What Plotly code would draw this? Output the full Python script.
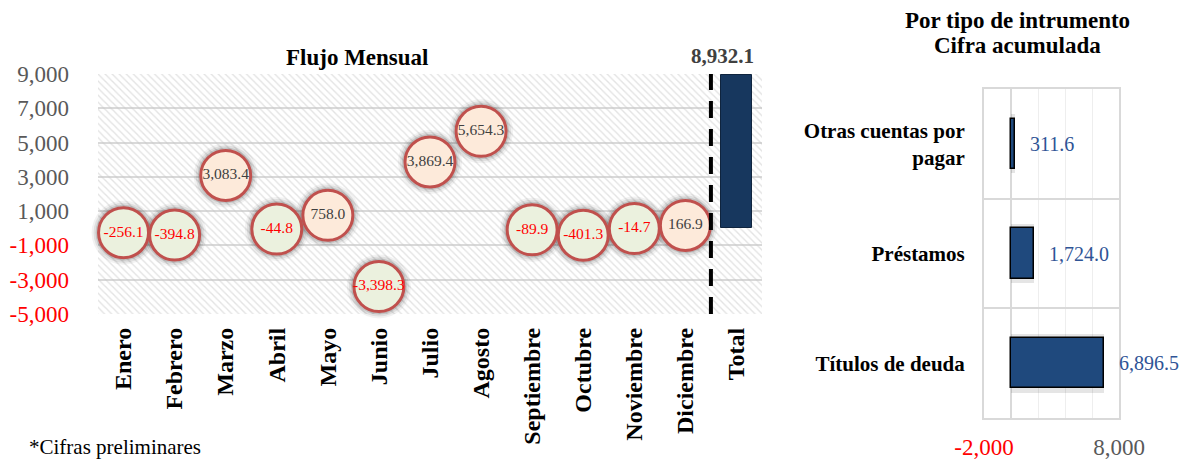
import plotly.graph_objects as go

# --- data -------------------------------------------------------------
MONTHS = ["Enero", "Febrero", "Marzo", "Abril", "Mayo", "Junio", "Julio",
          "Agosto", "Septiembre", "Octubre", "Noviembre", "Diciembre"]
MONTHLY_FLOW = [-256.1, -394.8, 3083.4, -44.8, 758.0, -3398.3, 3869.4,
                5654.3, -89.9, -401.3, -14.7, 166.9]
TOTAL_LABEL = "Total"
TOTAL_VALUE = 8932.1

INSTRUMENTS = ["Otras cuentas por<br>pagar", "Préstamos", "Títulos de deuda"]
INSTRUMENT_VALUES = [311.6, 1724.0, 6896.5]

Y_TICKS = [9000, 7000, 5000, 3000, 1000, -1000, -3000, -5000]
X2_TICKS = [-2000, 8000]

FONT = "Liberation Serif"
RED = "#FF0000"
GRAY = "#595959"
GRID = "#d9d9d9"

# the page body keeps its default 8px margin, so size the figure to fit
PAGE_MARGIN = 8
W, H = 1188 - PAGE_MARGIN, 459 - PAGE_MARGIN


def px(x):
    # window pixel -> paper x
    return (x - PAGE_MARGIN) / W


def py(y):
    # window pixel -> paper y
    return 1 - (y - PAGE_MARGIN) / H


def fmt(v):
    return f"{v:,.1f}"


def tick_text(v):
    color = RED if v < 0 else GRAY
    return f"<span style='color:{color}'>{v:,.0f}</span>"


categories = MONTHS + [TOTAL_LABEL]
Y_RANGE = [min(Y_TICKS), max(Y_TICKS)]

fig = go.Figure()

# hatched background of the monthly panel
fig.add_trace(go.Bar(
    x=[categories[len(categories) // 2]], y=[Y_RANGE[1] - Y_RANGE[0]], base=[Y_RANGE[0]],
    width=[len(categories)],
    marker=dict(color="rgba(0,0,0,0)", line=dict(width=0),
                pattern=dict(shape="\\", fgcolor="#c8c8c8", bgcolor="rgba(0,0,0,0)",
                             size=5, solidity=0.28, fillmode="overlay")),
    hoverinfo="skip", showlegend=False,
))

# total bar
fig.add_trace(go.Bar(
    x=[TOTAL_LABEL], y=[TOTAL_VALUE], width=[0.6],
    marker=dict(color="#17375E", line=dict(color="#0f243e", width=1)),
    showlegend=False,
))

# bubble shadows
for size, alpha in [(64, 0.05), (60, 0.08), (56, 0.12)]:
    fig.add_trace(go.Scatter(
        x=MONTHS, y=MONTHLY_FLOW, mode="markers",
        marker=dict(size=size, color=f"rgba(0,0,0,{alpha})", line=dict(width=0)),
        hoverinfo="skip", showlegend=False, cliponaxis=False,
    ))

# bubbles
fig.add_trace(go.Scatter(
    x=MONTHS, y=MONTHLY_FLOW, mode="markers+text",
    marker=dict(size=50,
                color=["#EBF1DE" if v < 0 else "#FDEADA" for v in MONTHLY_FLOW],
                line=dict(color="#C0504D", width=3), opacity=1),
    text=[fmt(v) for v in MONTHLY_FLOW],
    textposition="middle center",
    textfont=dict(family=FONT, size=15.5,
                  color=[RED if v < 0 else "#404040" for v in MONTHLY_FLOW]),
    showlegend=False, cliponaxis=False,
))

# instrument bars (shadow + bar)
fig.add_trace(go.Bar(
    y=INSTRUMENTS, x=INSTRUMENT_VALUES, orientation="h", width=0.54,
    marker=dict(color="rgba(0,0,0,0.10)", line=dict(width=0)),
    xaxis="x2", yaxis="y2", hoverinfo="skip", showlegend=False,
))
fig.add_trace(go.Bar(
    y=INSTRUMENTS, x=INSTRUMENT_VALUES, orientation="h", width=0.46,
    marker=dict(color="#1F497D", line=dict(color="#000000", width=1.5)),
    cliponaxis=False, xaxis="x2", yaxis="y2", showlegend=False,
))

# value labels next to the instrument bars
bar_labels = [
    dict(text=fmt(v), xref="x2", yref="y2", x=v, y=name,
         xanchor="left", yanchor="middle", xshift=13, showarrow=False,
         font=dict(family=FONT, size=20, color="#2F5496"))
    for name, v in zip(INSTRUMENTS, INSTRUMENT_VALUES)
]

fig.update_layout(
    width=W, height=H,
    margin=dict(l=0, r=0, t=0, b=0),
    paper_bgcolor="white", plot_bgcolor="white",
    barmode="overlay", bargap=0,
    font=dict(family=FONT, color="#000000"),
    xaxis=dict(
        domain=[px(98), px(762)], type="category", categoryorder="array",
        categoryarray=categories, range=[-0.5, len(categories) - 0.5],
        tickangle=-90, showgrid=False, zeroline=False, showline=False,
        ticklabelstandoff=8, automargin=False,
        tickfont=dict(family=FONT, size=24, color="#000000", weight="bold"),
    ),
    yaxis=dict(
        domain=[py(314), py(74)], range=Y_RANGE,
        tickvals=Y_TICKS, ticktext=[tick_text(v) for v in Y_TICKS],
        tickfont=dict(family=FONT, size=23),
        showgrid=True, gridcolor=GRID, gridwidth=2, zeroline=False,
        ticklabelstandoff=28, automargin=False,
    ),
    xaxis2=dict(
        domain=[px(984), px(1119)], anchor="y2", range=[-2000, 8000],
        tickvals=X2_TICKS, ticktext=[tick_text(v) for v in X2_TICKS],
        tickfont=dict(family=FONT, size=23),
        showgrid=False, zeroline=True, zerolinecolor=GRID, zerolinewidth=2,
        minor=dict(dtick=2000, showgrid=True, gridcolor="#eeeeee", gridwidth=1),
        showline=True, linecolor=GRID, linewidth=2, mirror=True,
        ticklabelstandoff=7, automargin=False,
    ),
    yaxis2=dict(
        domain=[py(418), py(89)], anchor="x2", type="category",
        autorange="reversed", tickson="boundaries", ticks="",
        showgrid=True, gridcolor=GRID, gridwidth=2,
        showline=True, linecolor=GRID, linewidth=2, mirror=True,
        tickfont=dict(family=FONT, size=21, color="#000000", weight="bold"),
        ticklabelstandoff=13, automargin=False,
    ),
    shapes=[dict(
        type="line", xref="x", yref="y domain", x0=11.5, x1=11.5, y0=0, y1=1,
        line=dict(color="#000000", width=4, dash="17px,11px"), layer="above",
    )],
    annotations=bar_labels + [
        dict(text="<b>Flujo Mensual</b>", xref="paper", yref="paper",
             x=px(357), y=py(57), xanchor="center", yanchor="middle", showarrow=False,
             font=dict(family=FONT, size=23, color="#000000")),
        dict(text=f"<b>{fmt(TOTAL_VALUE)}</b>", xref="x", yref="y",
             x=TOTAL_LABEL, y=TOTAL_VALUE, yanchor="bottom", yshift=5, xshift=-14,
             showarrow=False, font=dict(family=FONT, size=21, color="#404040")),
        dict(text="<b>Por tipo de intrumento</b>",
             xref="paper", yref="paper", x=px(1017), y=py(20),
             xanchor="center", yanchor="middle", showarrow=False,
             font=dict(family=FONT, size=23, color="#000000")),
        dict(text="<b>Cifra acumulada</b>",
             xref="paper", yref="paper", x=px(1017), y=py(46),
             xanchor="center", yanchor="middle", showarrow=False,
             font=dict(family=FONT, size=23, color="#000000")),
        dict(text="*Cifras preliminares", xref="paper", yref="paper",
             x=px(27), y=py(447), xanchor="left", yanchor="middle", showarrow=False,
             font=dict(family=FONT, size=21, color="#000000")),
    ],
)

fig.write_html("out.html")
